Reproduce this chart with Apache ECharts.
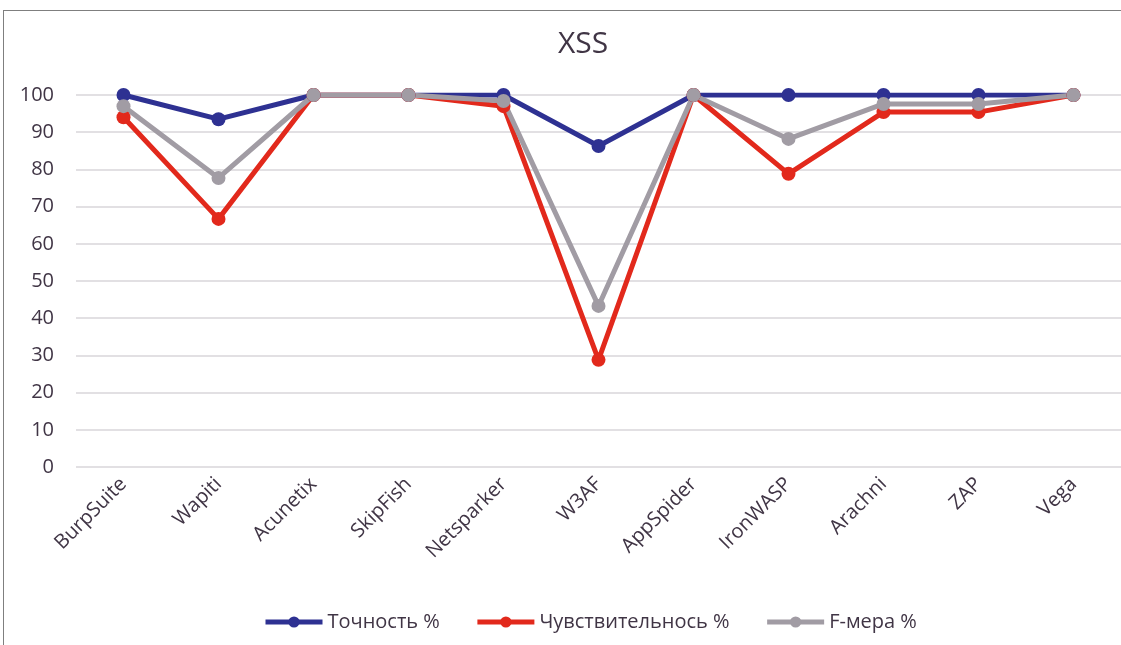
<!DOCTYPE html>
<html>
<head>
<meta charset="utf-8">
<script src="https://cdn.jsdelivr.net/npm/echarts@6/dist/echarts.min.js"></script>
<style>
  html, body { margin: 0; padding: 0; background: #fff; }
  #main { width: 1121px; height: 645px; }
  #frame { position: absolute; left: 3px; top: 10px; width: 1130px; height: 700px;
           border-top: 1px solid #7f7f7f; border-left: 1px solid #7f7f7f; pointer-events: none; }
</style>
</head>
<body>
<div id="main"></div>
<div id="frame"></div>
<script>
var categories = ["BurpSuite", "Wapiti", "Acunetix", "SkipFish", "Netsparker", "W3AF", "AppSpider", "IronWASP", "Arachni", "ZAP", "Vega"];
var seriesNames = ["Точность %", "Чувствительнось %", "F-мера %"];
var precision = [100, 93.5, 100, 100, 100, 86.3, 100, 100, 100, 100, 100];
var sensitivity = [94, 66.7, 100, 100, 97, 28.8, 100, 78.8, 95.4, 95.4, 100];
var fmeasure = [97, 77.7, 100, 100, 98.4, 43.3, 100, 88.2, 97.6, 97.6, 100];
var yTicks = [0, 10, 20, 30, 40, 50, 60, 70, 80, 90, 100];

var colors = ["#2e3192", "#e2291c", "#a19ca4"];
var font = "Open Sans";
var textColor = "#403545";

var myChart = echarts.init(document.getElementById("main"));

function mkSeries(name, data, color) {
  return {
    name: name,
    type: "line",
    data: data,
    symbol: "circle",
    symbolSize: 14,
    lineStyle: { width: 5, color: color },
    itemStyle: { color: color },
    z: 2
  };
}

var option = {
  animation: false,
  textStyle: { fontFamily: font },
  title: {
    text: "XSS",
    left: 578,
    textAlign: "center",
    top: 24,
    textStyle: { fontFamily: font, fontSize: 30, fontWeight: "normal", color: textColor }
  },
  legend: {
    data: seriesNames,
    bottom: 8,
    left: 258,
    itemWidth: 57,
    itemHeight: 14,
    itemGap: 35,
    lineStyle: { width: 5 },
    textStyle: { fontFamily: font, fontSize: 20, color: textColor }
  },
  grid: { left: 76, right: -3, top: 95, bottom: 178 },
  xAxis: {
    type: "category",
    data: categories,
    boundaryGap: true,
    axisLine: { show: false },
    axisTick: { show: false },
    axisLabel: { rotate: 45, fontSize: 20, color: textColor, margin: 14, fontFamily: font }
  },
  yAxis: {
    type: "value",
    min: yTicks[0],
    max: yTicks[yTicks.length - 1],
    interval: 10,
    axisLine: { show: false },
    axisTick: { show: false },
    splitLine: { lineStyle: { color: "#d9d6da", width: 1.5 } },
    axisLabel: { fontSize: 20, color: textColor, margin: 22, fontFamily: font }
  },
  series: [
    mkSeries(seriesNames[0], precision, colors[0]),
    mkSeries(seriesNames[1], sensitivity, colors[1]),
    mkSeries(seriesNames[2], fmeasure, colors[2])
  ]
};
myChart.setOption(option);
</script>
</body>
</html>
